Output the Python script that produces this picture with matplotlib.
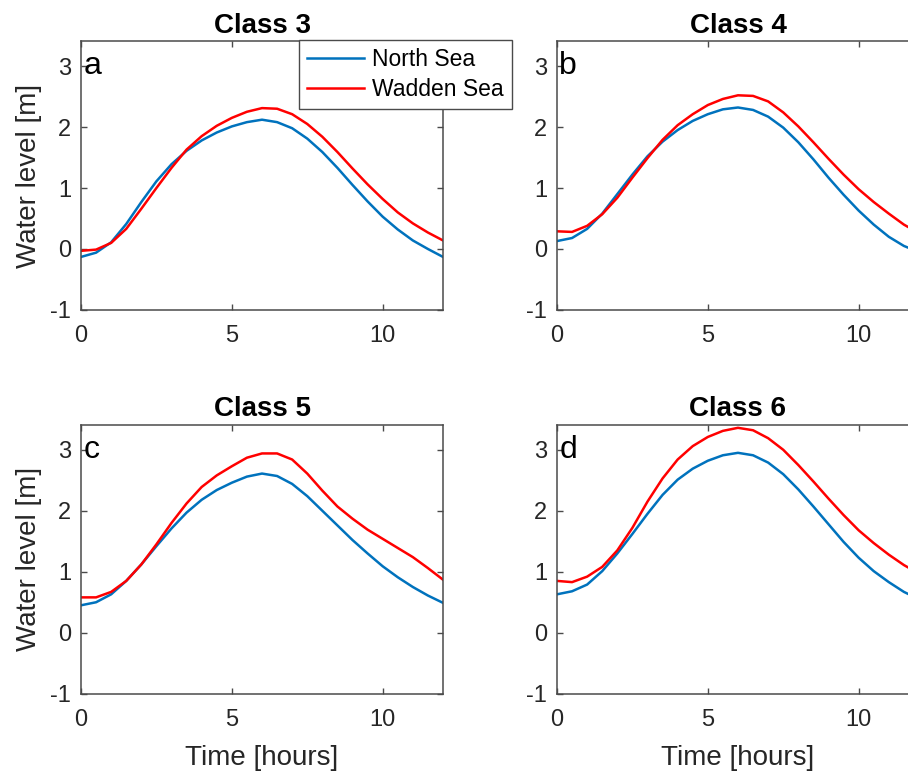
import matplotlib
matplotlib.use("Agg")
import matplotlib.pyplot as plt

plt.rcParams['font.family'] = ['Liberation Sans', 'DejaVu Sans']

hours = [0.0, 0.5, 1.0, 1.5, 2.0, 2.5, 3.0, 3.5, 4.0, 4.5, 5.0, 5.5, 6.0,
         6.5, 7.0, 7.5, 8.0, 8.5, 9.0, 9.5, 10.0, 10.5, 11.0, 11.5, 12.0]

north_c3 = [-0.13, -0.06, 0.11, 0.41, 0.77, 1.11, 1.39, 1.61, 1.78, 1.91, 2.01, 2.08, 2.12,
            2.08, 1.98, 1.81, 1.59, 1.33, 1.05, 0.78, 0.53, 0.32, 0.14, 0.00, -0.13]
wadden_c3 = [-0.03, -0.01, 0.10, 0.33, 0.66, 1.00, 1.33, 1.63, 1.85, 2.02, 2.15, 2.25, 2.31,
             2.30, 2.21, 2.05, 1.84, 1.59, 1.32, 1.06, 0.82, 0.60, 0.42, 0.27, 0.14]

north_c4 = [0.13, 0.18, 0.33, 0.58, 0.90, 1.22, 1.52, 1.76, 1.95, 2.10, 2.21, 2.29, 2.32,
            2.28, 2.17, 1.99, 1.75, 1.47, 1.17, 0.89, 0.63, 0.40, 0.20, 0.05, -0.05]
wadden_c4 = [0.29, 0.28, 0.38, 0.57, 0.84, 1.17, 1.49, 1.79, 2.03, 2.21, 2.36, 2.46, 2.52,
             2.51, 2.42, 2.24, 2.01, 1.75, 1.48, 1.22, 0.98, 0.77, 0.58, 0.40, 0.26]

north_c5 = [0.45, 0.50, 0.63, 0.85, 1.12, 1.42, 1.71, 1.97, 2.18, 2.34, 2.46, 2.56, 2.61,
            2.57, 2.44, 2.24, 2.00, 1.76, 1.52, 1.30, 1.09, 0.91, 0.75, 0.61, 0.49]
wadden_c5 = [0.58, 0.58, 0.67, 0.85, 1.12, 1.45, 1.80, 2.12, 2.39, 2.58, 2.73, 2.87, 2.94,
             2.94, 2.84, 2.61, 2.33, 2.07, 1.87, 1.69, 1.54, 1.39, 1.24, 1.06, 0.87]

north_c6 = [0.63, 0.68, 0.79, 1.01, 1.30, 1.62, 1.95, 2.26, 2.51, 2.69, 2.82, 2.91, 2.95,
            2.91, 2.79, 2.60, 2.35, 2.07, 1.78, 1.49, 1.23, 1.01, 0.83, 0.67, 0.55]
wadden_c6 = [0.85, 0.83, 0.92, 1.08, 1.35, 1.72, 2.15, 2.53, 2.84, 3.06, 3.21, 3.31, 3.36,
             3.32, 3.19, 3.00, 2.75, 2.48, 2.20, 1.93, 1.68, 1.47, 1.28, 1.11, 0.97]

titles = ['Class 3', 'Class 4', 'Class 5', 'Class 6']
letters = ['a', 'b', 'c', 'd']
series_names = ['North Sea', 'Wadden Sea']
north = [north_c3, north_c4, north_c5, north_c6]
wadden = [wadden_c3, wadden_c4, wadden_c5, wadden_c6]
xticks = [0, 5, 10]
yticks = [-1, 0, 1, 2, 3]

BLUE = '#0072BD'
RED = '#FF0000'
AXC = '#262626'
SPC = '#4a4a4a'

fig = plt.figure(figsize=(9.08, 7.74), dpi=100)
positions = [
    [0.0892, 0.5995, 0.3987, 0.3475],
    [0.6134, 0.5995, 0.3987, 0.3475],
    [0.0892, 0.1037, 0.3987, 0.3475],
    [0.6134, 0.1037, 0.3987, 0.3475],
]

for i, pos in enumerate(positions):
    ax = fig.add_axes(pos)
    ln1, = ax.plot(hours, north[i], color=BLUE, lw=1.8, label=series_names[0],
                   solid_joinstyle='round')
    ln2, = ax.plot(hours, wadden[i], color=RED, lw=1.8, label=series_names[1],
                   solid_joinstyle='round')
    ax.set_xlim(0, 12)
    ax.set_ylim(-1, 3.41)
    ax.set_xticks(xticks)
    ax.set_yticks(yticks)
    ax.set_xticklabels([str(t) for t in xticks])
    ax.set_yticklabels([str(t) for t in yticks])
    ax.tick_params(direction='in', top=True, right=True, length=4, width=1.0,
                   color=SPC, labelsize=17, labelcolor=AXC)
    ax.tick_params(axis='x', pad=11)
    ax.tick_params(axis='y', pad=7)
    for s in ax.spines.values():
        s.set_color(SPC)
        s.set_linewidth(1.1)
    ax.set_title(titles[i], fontsize=20, fontweight='bold', color='black', pad=6)
    ax.text(0.08, 3.0, letters[i], fontsize=23, color='black', va='center', ha='left')
    if i in (0, 2):
        ax.set_ylabel('Water level [m]', fontsize=20, color=AXC, labelpad=6)
    if i in (2, 3):
        ax.set_xlabel('Time [hours]', fontsize=20, color=AXC, labelpad=10)
    if i == 0:
        leg = ax.legend(handles=[ln1, ln2], loc='upper right',
                        bbox_to_anchor=(512 / 908, 1 - 40 / 774),
                        bbox_transform=fig.transFigure, borderaxespad=0,
                        fontsize=16.5, frameon=True, fancybox=False,
                        framealpha=1, edgecolor=SPC, handlelength=2.5,
                        handletextpad=0.35, labelspacing=0.3, borderpad=0.35)
        leg.get_frame().set_linewidth(1.0)
        leg.set_zorder(10)

fig.savefig('out.png', dpi=100)
